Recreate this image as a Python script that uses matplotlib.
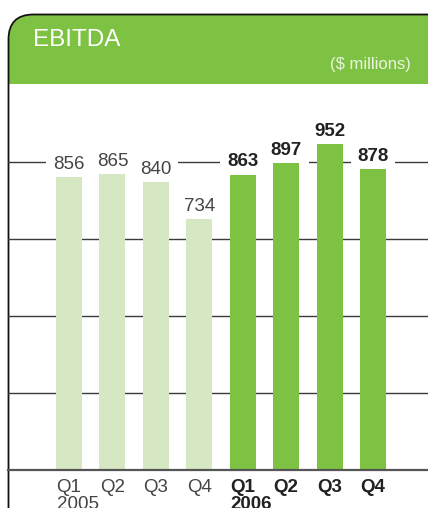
import matplotlib
matplotlib.use("Agg")
import matplotlib.pyplot as plt
from matplotlib.path import Path
from matplotlib.patches import PathPatch

plt.rcParams['font.family'] = ['Liberation Sans', 'DejaVu Sans']

quarters = ["Q1", "Q2", "Q3", "Q4", "Q1", "Q2", "Q3", "Q4"]
values = [856, 865, 840, 734, 863, 897, 952, 878]
years = ["2005", "2006"]
year_start_index = [0, 4]
gridlines = [225, 450, 675, 900]
title = "EBITDA"
unit = "($ millions)"

GREEN = "#7DC242"
LIGHT = "#D5E8C3"

W, H = 428, 508
fig = plt.figure(figsize=(W / 100, H / 100), dpi=100)

# Background panel in pixel coords
bg = fig.add_axes([0, 0, 1, 1])
bg.set_xlim(0, W)
bg.set_ylim(H, 0)
bg.axis('off')

r = 25
verts = [(9, 84), (9, 15 + r), (9, 15), (9 + r, 15), (W + 2, 15), (W + 2, 84), (9, 84)]
codes = [Path.MOVETO, Path.LINETO, Path.CURVE3, Path.CURVE3, Path.LINETO, Path.LINETO, Path.CLOSEPOLY]
bg.add_patch(PathPatch(Path(verts, codes), fc=GREEN, ec='none'))
verts = [(8.5, H + 2), (8.5, 14.5 + r), (8.5, 14.5), (8.5 + r, 14.5), (W + 2, 14.5)]
codes = [Path.MOVETO, Path.LINETO, Path.CURVE3, Path.CURVE3, Path.LINETO]
bg.add_patch(PathPatch(Path(verts, codes), fc='none', ec='#111111', lw=1.3))

bg.text(33, 46, title, color='white', fontsize=17.5, va='baseline', ha='left')
bg.text(411, 69, unit, color='#EAF4DF', fontsize=12, va='baseline', ha='right')

# Chart axes
base_px, top_px = 470, 100
ax = fig.add_axes([8 / W, (H - base_px) / H, (W - 8) / W, (base_px - top_px) / H])
ax.patch.set_visible(False)
scale = 0.3424  # px per unit
ax.set_ylim(0, (base_px - top_px) / scale)
step = 43.43
ax.set_xlim(-(69 - 8) / step, 7 + (W - 373) / step)
for s in ax.spines.values():
    s.set_visible(False)
ax.set_xticks([])
ax.set_yticks([])

for g in gridlines:
    ax.axhline(g, color='#3a3a3a', lw=1.0, zorder=1)
ax.axhline(0, color='#555555', lw=1.6, zorder=4, clip_on=False)

xs = list(range(len(values)))
colors = [LIGHT] * 4 + [GREEN] * 4
ax.bar(xs, values, width=0.6, color=colors, zorder=2)

for i, v in enumerate(values):
    bold = i >= 4
    ax.annotate(str(v), xy=(i, v), xytext=(0, 5.8), textcoords='offset points',
                ha='center', va='baseline', fontsize=13.5,
                fontweight='bold' if bold else 'normal',
                color='#222222' if bold else '#444444', zorder=1.5,
                bbox=dict(boxstyle='square,pad=0.36', fc='white', ec='none'))

for i, q in enumerate(quarters):
    bold = i >= 4
    ax.annotate(q, xy=(i, 0), xycoords=('data', 'axes fraction'),
                xytext=(0, -15.8), textcoords='offset points',
                ha='center', va='baseline', fontsize=13.5,
                fontweight='bold' if bold else 'normal',
                color='#222222' if bold else '#444444', annotation_clip=False)

for y, idx in zip(years, year_start_index):
    bold = idx >= 4
    ax.annotate(y, xy=(idx - 0.3, 0), xycoords=('data', 'axes fraction'),
                xytext=(0.5, -28.3), textcoords='offset points',
                ha='left', va='baseline', fontsize=13.5,
                fontweight='bold' if bold else 'normal',
                color='#222222' if bold else '#444444', annotation_clip=False)

fig.savefig('out.png', dpi=100)
